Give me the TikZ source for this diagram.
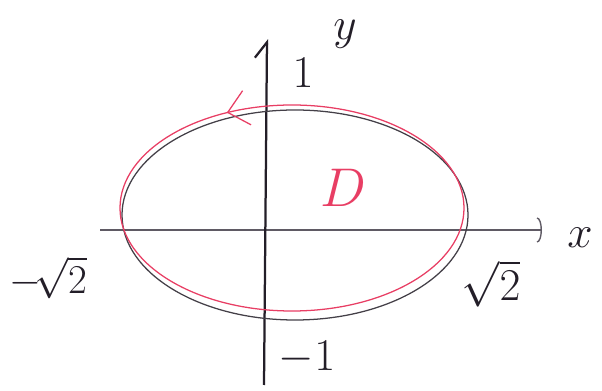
\documentclass[tikz,border=0pt]{standalone}
\usetikzlibrary{arrows.meta,decorations.markings}
\definecolor{pen}{RGB}{35,30,40}
\definecolor{axisgray}{RGB}{95,90,100}
\definecolor{redpen}{RGB}{232,62,100}
\tikzset{
  lbl/.style={text=pen,font=\Huge,scale=2.6,inner sep=0pt},
  curve/.style={line width=1.8pt},
}
\begin{document}
\begin{tikzpicture}[x=0.05cm,y=0.05cm]
\useasboundingbox (0,0) rectangle (602,391);
% axes
\coordinate (xs) at (100,161);
\coordinate (xe) at (542,161);
\coordinate (ys) at (264,6);
\coordinate (ye) at (267,352);
\draw[axisgray,line width=2pt,-{Arc Barb[length=7pt,width=36pt]}] (xs) -- (xe);
\draw[pen,line width=3.2pt,-{Straight Barb[length=22pt,width=34pt,left]}] (ys) -- (ye);
% black ellipse
\draw[pen!85,curve] (295,176) ellipse [x radius=173,y radius=105];
% red ellipse with orientation arrow
\draw[redpen,curve,postaction={decorate},decoration={markings,
  mark=at position 0.325 with {\arrow{Straight Barb[length=28pt,width=50pt,line width=1.8pt]}}}]
  (464,183) arc[start angle=0,end angle=360,x radius=172,y radius=103];
% labels
\node[lbl] (ly) at (345,357) {$y$};
\node[lbl] (l1) at (303,318) {$1$};
\node[lbl] (lx) at (580,153) {$x$};
\node[lbl,scale=0.9] (lm2) at (48,113) {$-\!\sqrt{2}$};
\node[lbl] (lp2) at (491,107) {$\sqrt{2}$};
\node[lbl] (lm1) at (307,33) {$-1$};
\node[lbl,text=redpen,scale=1.2] (lD) at (343,203) {$D$};
\end{tikzpicture}
\end{document}
